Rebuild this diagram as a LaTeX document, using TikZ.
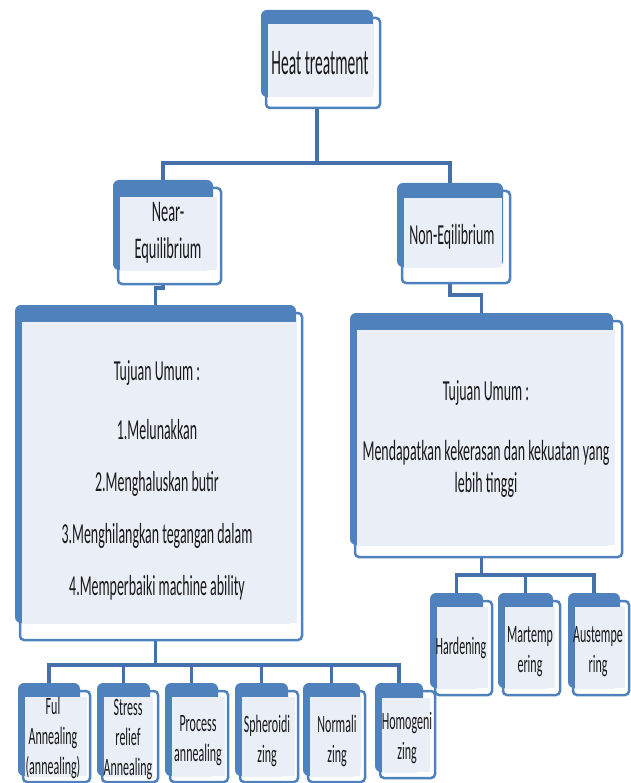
\documentclass[tikz,border=0pt]{standalone}
\usepackage{fontspec}
\setmainfont{Carlito}
\newfontfamily\condA[FakeStretch=0.48]{Carlito}
\newfontfamily\condB[FakeStretch=0.43]{Carlito}
\usetikzlibrary{fit}
\definecolor{ocblue}{RGB}{79,129,189}
\definecolor{lineblue}{RGB}{70,112,170}
\definecolor{paleblue}{RGB}{234,239,247}
\pgfdeclarelayer{bg}
\pgfsetlayers{bg,main}
\tikzset{
  frameline/.style={draw=ocblue, line width=2.5pt, fill=white, rounded corners=4pt},
  backshape/.style={draw=none, fill=ocblue, rounded corners=6pt, inner sep=0pt},
  conn/.style={draw=lineblue, line width=3.5pt},
  txt/.style={inner sep=0pt, text=black!90, align=center},
  big/.style={font={\condA\fontsize{29}{52}\selectfont}},
  small/.style={font={\condA\fontsize{25}{30}\selectfont}},
}
% #1 name, #2 bx1, #3 by1, #4 bx2, #5 lx2, #6 ly2, #7 fx2, #8 fy2, #9 band
\newcommand\orgbox[9]{%
  \draw[frameline] (#2+5,#3+8) rectangle (#7,#8);
  \node[backshape, fit={(#2,#3)(#4,#6)}] (#1) {};
  \fill[paleblue] (#2+7,#3+#9) rectangle (#5,#6);
}
\begin{document}
\begin{tikzpicture}[x=1pt,y=-1pt]
\useasboundingbox (0,0) rectangle (630,783);
% boxes
\orgbox{heat}{261}{10}{373}{373}{97}{380}{108}{14}
\orgbox{near}{113}{180}{213}{217}{270}{221}{284}{17}
\orgbox{non}{397}{183}{503}{502}{267}{510}{283}{15}
\orgbox{left}{15}{305}{296}{297}{623}{302}{640}{17}
\orgbox{right}{350}{313}{613}{615}{545}{622}{557}{17}
\orgbox{b1}{18}{683}{80}{87}{776}{90}{782}{14}
\orgbox{b2}{97}{683}{150}{153}{776}{158}{782}{14}
\orgbox{b3}{165}{683}{218}{225}{776}{228}{782}{14}
\orgbox{b4}{235}{683}{288}{295}{776}{298}{782}{14}
\orgbox{b5}{303}{683}{360}{360}{776}{365}{782}{14}
\orgbox{b6}{375}{683}{423}{430}{772}{435}{778}{15}
\orgbox{r1}{430}{593}{483}{488}{688}{492}{695}{14}
\orgbox{r2}{498}{593}{553}{555}{688}{560}{695}{14}
\orgbox{r3}{568}{593}{620}{625}{688}{629}{695}{14}
% texts
\node[txt, font={\condB\fontsize{36}{38}\selectfont}] (tHeat) at (320,63) {Heat treatment};
\node[txt, font={\condA\fontsize{30}{37}\selectfont}] (tNear) at (168,233) {Near-\\Equilibrium};
\node[txt, font={\condA\fontsize{29}{32}\selectfont}] (tNon) at (452,237) {Non-Eqilibrium};
\node[txt, big] (tLeft) at (157,480) {Tujuan Umum :\\[7pt]1.Melunakkan\\2.Menghaluskan butir\\3.Menghilangkan tegangan dalam\\4.Memperbaiki machine ability};
\node[txt, font={\condA\fontsize{29}{32}\selectfont}] (tRight) at (486,439) {Tujuan Umum :\\[28pt]Mendapatkan kekerasan dan kekuatan yang\\lebih tinggi};
\node[txt, small] (tb1) at (53,738) {Ful\\Annealing\\(annealing)};
\node[txt, small] (tb2) at (128,740) {Stress\\relief\\Annealing};
\node[txt, small] (tb3) at (198,741) {Process\\annealing};
\node[txt, small] (tb4) at (267,741) {Spheroidi\\zing};
\node[txt, small] (tb5) at (337,741) {Normali\\zing};
\node[txt, small] (tb6) at (407,738) {Homogeni\\zing};
\node[txt, small] (tr1) at (461,648) {Hardening};
\node[txt, small] (tr2) at (530,652) {Martemp\\ering};
\node[txt, small] (tr3) at (598,652) {Austempe\\ring};
% connectors
\begin{pgfonlayer}{bg}
\draw[conn] (heat.south) -- ++(0,66) -| (near.north);
\draw[conn] (heat.south) -- ++(0,66) -| (non.north);
\draw[conn] (near.south) -- ++(0,18) -| (left.north);
\draw[conn] (non.south) -- ++(0,28) -| (right.north);
\foreach \b in {b1,b2,b3,b4,b5,b6}
  \draw[conn] (left.south) -- ++(0,42) -| (\b.north);
\foreach \r in {r1,r2,r3}
  \draw[conn] (right.south) -- ++(0,30) -| (\r.north);
\end{pgfonlayer}
\end{tikzpicture}
\end{document}
